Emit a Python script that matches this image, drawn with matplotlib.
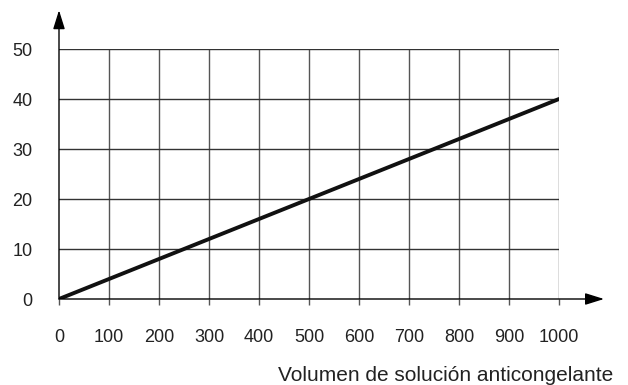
import numpy as np
import matplotlib.pyplot as plt

x_ticks = [0, 100, 200, 300, 400, 500, 600, 700, 800, 900, 1000]
y_ticks = [0, 10, 20, 30, 40, 50]
line_x = [0, 1000]
line_y = [0, 40]
x_label = "Volumen de solución anticongelante"


def main():
    plt.rcParams['font.family'] = ['Liberation Sans', 'DejaVu Sans']
    fig = plt.figure(figsize=(6.28, 3.85), dpi=100)
    W, H = 628, 385
    ax = fig.add_axes([59 / W, 1 - 299 / H, 500 / W, 250 / H])
    ax.set_xlim(0, 1000)
    ax.set_ylim(0, 50)

    for s in ax.spines.values():
        s.set_visible(False)

    # grid
    for xv in x_ticks[1:]:
        ax.plot([xv, xv], [0, 50], color='#555555', lw=1.0, zorder=1)
    for yv in y_ticks[1:]:
        ax.plot([0, 1000], [yv, yv], color='#333333', lw=1.0, zorder=1)

    ax.plot(line_x, line_y, color='#111111', lw=2.8, zorder=3, solid_capstyle='round')

    # axes with arrows
    arrow = dict(arrowstyle='-|>,head_length=1.15,head_width=0.36',
                 mutation_scale=10, color='black', lw=1.0, shrinkA=0, shrinkB=0)
    ax.annotate('', xy=(1.09, 0), xytext=(0, 0), xycoords='axes fraction',
                arrowprops=arrow, annotation_clip=False, zorder=4)
    ax.annotate('', xy=(0, 1.155), xytext=(0, 0), xycoords='axes fraction',
                arrowprops=arrow, annotation_clip=False, zorder=4)

    ax.set_xticks(x_ticks)
    ax.set_xticklabels([str(v) for v in x_ticks])
    ax.set_yticks(y_ticks)
    ax.set_yticklabels([str(v) for v in y_ticks])
    ax.tick_params(axis='x', length=4, width=1, color='#555555', pad=17.5,
                   labelsize=13, labelcolor='#222222')
    ax.tick_params(axis='y', length=0, pad=19, labelsize=13, labelcolor='#222222')

    fig.text(613 / W, 1 - 381 / H, x_label, ha='right', va='baseline',
             fontsize=15.0, color='#222222')

    fig.savefig('out.png', dpi=100)


if __name__ == '__main__':
    main()
